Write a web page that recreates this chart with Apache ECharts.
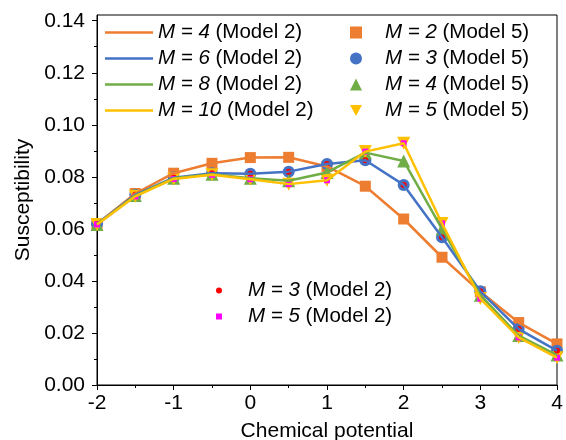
<!DOCTYPE html>
<html>
<head>
<meta charset="utf-8">
<script src="https://cdn.jsdelivr.net/npm/echarts@6/dist/echarts.min.js"></script>
<style>
  html, body { margin: 0; padding: 0; background: #fff; }
  #chart { width: 566px; height: 440px; }
</style>
</head>
<body>
<div id="chart"></div>
<script>
// chemical potential grid
var xs = [-2, -1.5, -1, -0.5, 0, 0.5, 1, 1.5, 2, 2.5, 3, 3.5, 4];

// susceptibility, Model 2 lines (same points carry the Model 5 markers)
var m4 = [0.0619, 0.0736, 0.0814, 0.0852, 0.0874, 0.0875, 0.0840, 0.0764, 0.0638, 0.0491, 0.0358, 0.0240, 0.0158];
var m6 = [0.0619, 0.0731, 0.0797, 0.0814, 0.0812, 0.0820, 0.0849, 0.0864, 0.0769, 0.0568, 0.0360, 0.0215, 0.0132];
var m8 = [0.0617, 0.0728, 0.0795, 0.0810, 0.0795, 0.0785, 0.0817, 0.0893, 0.0861, 0.0600, 0.0345, 0.0190, 0.0115];
var m10 = [0.0617, 0.0725, 0.0792, 0.0808, 0.0791, 0.0772, 0.0787, 0.0897, 0.0929, 0.0621, 0.0332, 0.0183, 0.0105];

// small Model 2 dots sit on the same points as M=3 / M=5 (Model 5)
var m3dots = m6;
var m5dots = m10;

var yTicks = [0, 0.02, 0.04, 0.06, 0.08, 0.10, 0.12, 0.14];
var yMinor = [0.01, 0.03, 0.05, 0.07, 0.09, 0.11, 0.13];

var orange = "#ED7D31", blue = "#4472C4", green = "#70AD47", yellow = "#FFC000";
var font = '"Liberation Sans", Arial, sans-serif';
var downTri = "path://M0,0 L2,0 L1,1.8 Z";
var lineIcon = "path://M0,0 L48,0 L48,2.5 L0,2.5 Z";

function pts(vals) {
  return xs.map(function (x, i) { return [x, vals[i]]; });
}

function lineSeries(name, vals, color) {
  return {
    name: name, type: "line", data: pts(vals), symbol: "none",
    lineStyle: { color: color, width: 2.5 }, itemStyle: { color: color }
  };
}

function markSeries(name, vals, color, symbol, size) {
  return {
    name: name, type: "scatter", data: pts(vals), symbol: symbol, symbolSize: size,
    itemStyle: { color: color, opacity: 1 }
  };
}

function legendFmt(name) {
  return name.replace(/^(M = \d+)/, "{i|$1}");
}

function legendText(padLeft) {
  return {
    fontFamily: font, fontSize: 20.5, color: "#000", lineHeight: 20,
    padding: [0, 0, 0, padLeft],
    rich: { i: { fontFamily: font, fontSize: 20.5, fontStyle: "italic", color: "#000", lineHeight: 20 } }
  };
}

var chart = echarts.init(document.getElementById("chart"), null, { renderer: "canvas" });

chart.setOption({
  animation: false,
  backgroundColor: "#fff",
  grid: {
    left: 97, right: 9, top: 15, bottom: 55, outerBoundsMode: "none", containLabel: false,
    show: true, borderColor: "#000", borderWidth: 1
  },
  legend: [
    {
      data: ["M = 4 (Model 2)", "M = 6 (Model 2)", "M = 8 (Model 2)", "M = 10 (Model 2)"].map(function (n) {
        return { name: n, icon: lineIcon };
      }),
      orient: "vertical", left: 105, top: 22, padding: 0, itemGap: 5,
      itemWidth: 48, itemHeight: 14, selectedMode: false,
      formatter: legendFmt, textStyle: legendText(0)
    },
    {
      data: ["M = 2 (Model 5)", "M = 3 (Model 5)", "M = 4 (Model 5)", "M = 5 (Model 5)"],
      orient: "vertical", left: 350, top: 22, padding: 0, itemGap: 5,
      itemWidth: 12, itemHeight: 12, selectedMode: false,
      formatter: legendFmt, textStyle: legendText(18)
    },
    {
      data: ["M = 3 (Model 2)", "M = 5 (Model 2)"],
      orient: "vertical", left: 216, top: 280, padding: 0, itemGap: 5,
      itemWidth: 6, itemHeight: 6, selectedMode: false,
      formatter: legendFmt, textStyle: legendText(21)
    }
  ],
  xAxis: {
    type: "value", min: -2, max: 4, interval: 1,
    name: "Chemical potential", nameLocation: "middle", nameGap: 36,
    nameTextStyle: { fontFamily: font, fontSize: 21, color: "#000" },
    axisLine: { onZero: false, lineStyle: { color: "#000", width: 1 } },
    axisTick: { inside: false, length: 5, lineStyle: { color: "#000" } },
    minorTick: { show: true, splitNumber: 2, length: 3, lineStyle: { color: "#000" } },
    axisLabel: { fontFamily: font, fontSize: 21, color: "#000", margin: 8 },
    splitLine: { show: false }
  },
  yAxis: [
    {
      type: "value", min: 0, max: 0.1422, position: "left",
      name: "Susceptibility", nameLocation: "middle", nameGap: 61,
      nameTextStyle: { fontFamily: font, fontSize: 21, color: "#000" },
      axisLine: { onZero: false, lineStyle: { color: "#000", width: 1 } },
      axisTick: { inside: false, length: 5, customValues: yTicks, lineStyle: { color: "#000" } },
      axisLabel: {
        fontFamily: font, fontSize: 21, color: "#000", margin: 12, customValues: yTicks,
        formatter: function (v) { return v.toFixed(2); }
      },
      splitLine: { show: false }
    },
    {
      type: "value", min: 0, max: 0.1422, position: "left",
      axisLine: { show: false, onZero: false },
      axisTick: { inside: false, length: 3, customValues: yMinor, lineStyle: { color: "#000" } },
      axisLabel: { show: false },
      splitLine: { show: false }
    }
  ],
  series: [
    lineSeries("M = 4 (Model 2)", m4, orange),
    lineSeries("M = 6 (Model 2)", m6, blue),
    lineSeries("M = 8 (Model 2)", m8, green),
    lineSeries("M = 10 (Model 2)", m10, yellow),
    markSeries("M = 2 (Model 5)", m4, orange, "rect", 11),
    markSeries("M = 3 (Model 5)", m6, blue, "circle", 12),
    markSeries("M = 4 (Model 5)", m8, green, "triangle", 13),
    markSeries("M = 5 (Model 5)", m10, yellow, downTri, 13),
    markSeries("M = 3 (Model 2)", m3dots, "#FF0000", "circle", 6),
    markSeries("M = 5 (Model 2)", m5dots, "#FF00FF", "rect", 6)
  ]
});
</script>
</body>
</html>
